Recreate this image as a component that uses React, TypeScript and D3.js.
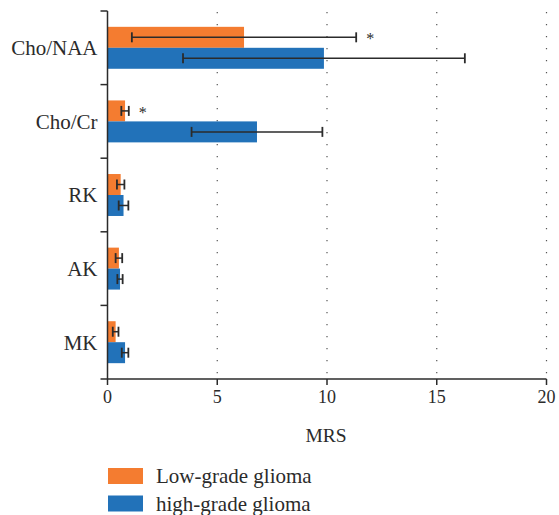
import * as d3 from "d3";

const CATEGORIES = ["Cho/NAA", "Cho/Cr", "RK", "AK", "MK"];
const LOW_MEAN = [6.22, 0.8, 0.6, 0.52, 0.37];
const LOW_SD = [5.11, 0.17, 0.17, 0.15, 0.13];
const HIGH_MEAN = [9.86, 6.81, 0.73, 0.57, 0.8];
const HIGH_SD = [6.42, 2.98, 0.22, 0.12, 0.15];
const SIGNIFICANT = [true, true, false, false, false];
const X_TICKS = [0, 5, 10, 15, 20];
const SERIES = ["Low-grade glioma", "high-grade glioma"];
const COLORS = ["#F47C30", "#2272B9"];

const FONT = "Liberation Serif";
const INK = "#2b2b2b";

const W = 559;
const H = 515;
const margin = { top: 11, left: 107.5, right: 12.5, bottom: 136 };
const width = W - margin.left - margin.right;
const height = H - margin.top - margin.bottom;

export default function App() {
  const x = d3.scaleLinear().domain([0, 20]).range([0, width]);
  const y = d3.scaleBand().domain(CATEGORIES).range([0, height]).paddingInner(0.43).paddingOuter(0.215);
  const half = y.bandwidth() / 2;
  const bandStep = height / CATEGORIES.length;

  const series = [
    { mean: LOW_MEAN, sd: LOW_SD, color: COLORS[0], off: 0 },
    { mean: HIGH_MEAN, sd: HIGH_SD, color: COLORS[1], off: half },
  ];

  return (
    <svg
      width={W}
      height={H}
      fontFamily={FONT}
      style={{ position: "absolute", left: 0, top: 0, background: "#fff" }}
    >
      <g transform={`translate(${margin.left},${margin.top})`}>
        {/* dotted grid */}
        {X_TICKS.filter((t) => t > 0).map((t) => (
          <line key={t} x1={x(t)} x2={x(t)} y1={1} y2={height}
            stroke="#555" strokeWidth={1.2} strokeDasharray="1.2,10.8" />
        ))}

        {/* bars and error bars */}
        {series.map((s, si) =>
          CATEGORIES.map((c, i) => {
            const y0 = (y(c) as number) + s.off;
            const cy = y0 + half / 2;
            const lo = x(s.mean[i] - s.sd[i]);
            const hi = x(s.mean[i] + s.sd[i]);
            return (
              <g key={`${si}-${c}`}>
                <rect x={0} y={y0} width={x(s.mean[i])} height={half} fill={s.color} />
                <line x1={lo} x2={hi} y1={cy} y2={cy} stroke={INK} strokeWidth={1.5} />
                <line x1={lo} x2={lo} y1={cy - 5} y2={cy + 5} stroke={INK} strokeWidth={1.8} />
                <line x1={hi} x2={hi} y1={cy - 5} y2={cy + 5} stroke={INK} strokeWidth={1.8} />
                {si === 0 && SIGNIFICANT[i] && (
                  <text x={hi + 14} y={cy + 7} textAnchor="middle" fill={INK} fontSize={16}>*</text>
                )}
              </g>
            );
          })
        )}

        {/* x axis */}
        <g transform={`translate(0,${height})`}>
          <line x1={-7} x2={width} y1={0} y2={0} stroke={INK} strokeWidth={1.5} />
          {X_TICKS.map((t) => (
            <g key={t} transform={`translate(${x(t)},0)`}>
              <line y1={0} y2={6} stroke={INK} strokeWidth={1.5} />
              <text y={24} textAnchor="middle" fill={INK} fontSize={18}>{t}</text>
            </g>
          ))}
        </g>

        {/* y axis with ticks at band boundaries */}
        <line x1={0} x2={0} y1={0} y2={height} stroke={INK} strokeWidth={1.5} />
        {d3.range(CATEGORIES.length).map((i) => (
          <line key={i} x1={-7} x2={0} y1={bandStep * i} y2={bandStep * i} stroke={INK} strokeWidth={1.5} />
        ))}
        {CATEGORIES.map((c) => (
          <text key={c} x={-10} y={(y(c) as number) + half} dy="0.35em"
            textAnchor="end" fill={INK} fontSize={21}>{c}</text>
        ))}

        <text x={width / 2 - 1} y={height + 63} textAnchor="middle" fill={INK} fontSize={19.5}>MRS</text>

        {/* legend */}
        {SERIES.map((name, i) => {
          const ly = height + 89 + i * 27.5;
          return (
            <g key={name}>
              <rect x={0.5} y={ly} width={35} height={16} fill={COLORS[i]} />
              <text x={48.5} y={ly + 8} dy="0.35em" fill={INK} fontSize={21}>{name}</text>
            </g>
          );
        })}
      </g>
    </svg>
  );
}
